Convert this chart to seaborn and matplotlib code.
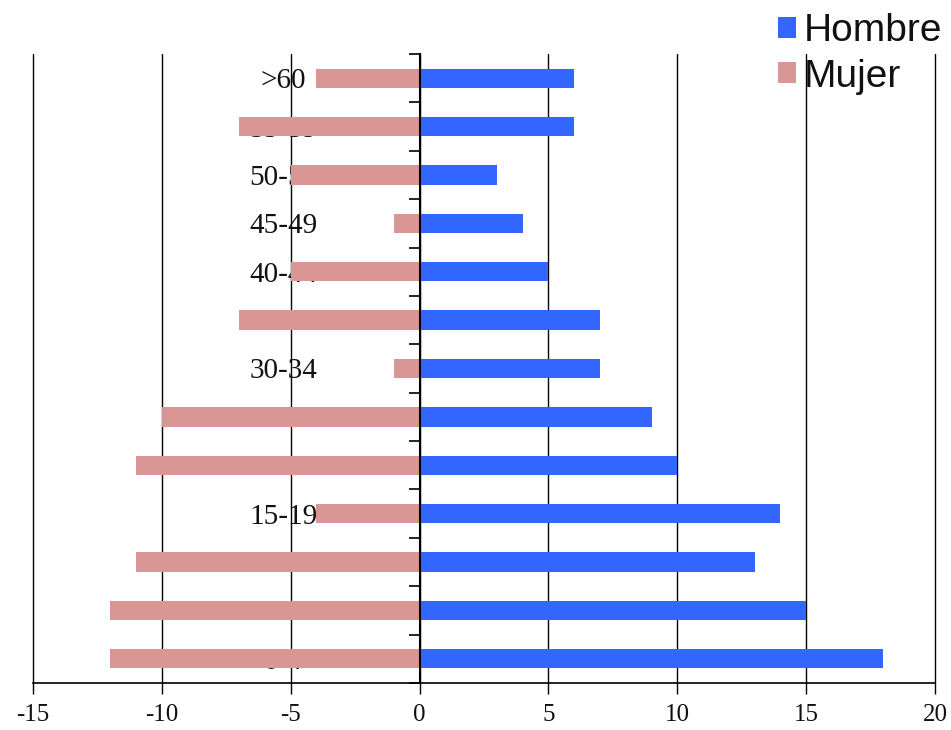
import numpy as np
import pandas as pd
import matplotlib.pyplot as plt
import seaborn as sns

# age groups, top to bottom
grupos = [">60", "55-59", "50-54", "45-49", "40-44", "35-39", "30-34",
          "25-29", "20-24", "15-19", "10-14", "5-9", "0-4"]
hombre = [6, 6, 3, 4, 5, 7, 7, 9, 10, 14, 13, 15, 18]
mujer = [-4, -7, -5, -1, -5, -7, -1, -10, -11, -4, -11, -12, -12]
x_ticks = [-15, -10, -5, 0, 5, 10, 15, 20]

df = pd.DataFrame({
    "grupo": grupos * 2,
    "valor": hombre + mujer,
    "sexo": ["Hombre"] * len(grupos) + ["Mujer"] * len(grupos),
})

sns.set_theme(style="white")
plt.rcParams["font.family"] = ["Liberation Serif", "DejaVu Serif"]

fig, ax = plt.subplots(figsize=(9.51, 7.30), dpi=100)
fig.subplots_adjust(left=33 / 951, right=935 / 951, bottom=47 / 730, top=676 / 730)

sns.barplot(data=df, x="valor", y="grupo", hue="sexo", orient="h", dodge=False,
            width=0.4, saturation=1, linewidth=0,
            palette={"Hombre": "#3366ff", "Mujer": "#d99694"}, ax=ax)

# spines first: moving a spine resets the ticks
for s in ["top", "right"]:
    ax.spines[s].set_visible(False)
ax.spines["left"].set_position(("data", 0))
ax.spines["left"].set_color("black")
ax.spines["left"].set_linewidth(1.5)
ax.spines["bottom"].set_color("black")
ax.spines["bottom"].set_linewidth(1.2)

ax.set_xlim(-15, 20)
ax.set_ylim(len(grupos) - 0.5, -0.5)
ax.set_xticks(x_ticks)
ax.set_xticklabels([str(t) for t in x_ticks])
ax.set_xlabel("")
ax.set_ylabel("")

# boundary ticks on the axis, labels at the category centres
ax.tick_params(axis="y", which="major", left=True, direction="out", length=8,
               width=1.2, color="black")
ax.tick_params(axis="y", which="minor", left=True, length=0, pad=98,
               labelsize=21, labelcolor="#111111")
ax.set_yticks(np.arange(-0.5, len(grupos), 1))
ax.set_yticklabels([""] * (len(grupos) + 1))
ax.set_yticks(range(len(grupos)), minor=True)
ax.set_yticklabels(grupos, minor=True, ha="center")
ax.tick_params(axis="x", which="major", bottom=True, direction="out", length=8,
               width=1, color="black", labelsize=18, labelcolor="#111111", pad=7)

ax.grid(axis="x", color="black", linewidth=1)
ax.grid(axis="y", visible=False)
ax.set_axisbelow(True)
for gl in ax.get_xgridlines():
    gl.set_clip_on(False)

handles, labels = ax.get_legend_handles_labels()
ax.get_legend().remove()
fig.legend(handles, labels, loc="upper right", bbox_to_anchor=(942 / 951, 1 - 13 / 730),
           frameon=False, prop={"family": "Liberation Sans", "size": 28},
           labelcolor="#111111",
           handlelength=0.45, handleheight=0.45, handletextpad=0.2,
           labelspacing=0.25, borderpad=0, borderaxespad=0)

fig.savefig("out.png", dpi=100)
